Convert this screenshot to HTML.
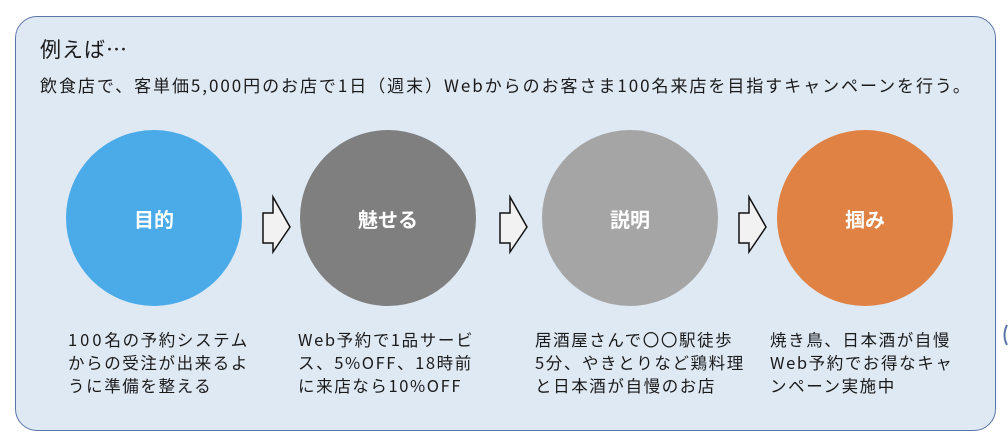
<!DOCTYPE html>
<html><head><meta charset="utf-8"><style>
body{margin:0;width:1008px;height:444px;background:#fff;position:relative;overflow:hidden;font-family:"Noto Sans CJK JP","Liberation Sans",sans-serif;color:#1a1a1a}
.box{position:absolute;left:15px;top:16px;width:979px;height:413px;border:1.5px solid #5b75a9;border-radius:22px;background:#dfe9f4}
.t{position:absolute;white-space:nowrap}
.c{position:absolute;width:176px;height:176px;border-radius:50%;top:130px;color:#fff;font-size:20px;font-weight:bold;display:flex;align-items:center;justify-content:center}
.d{position:absolute;top:328px;font-size:16.5px;line-height:23px;white-space:nowrap;letter-spacing:1.6px}
.n{letter-spacing:3px}
svg{position:absolute}
</style></head><body>
<div class="box"></div>
<div class="t" style="left:40px;top:34px;font-size:21px;letter-spacing:1px">例えば…</div>
<div class="t" style="left:40px;top:72px;font-size:17px;letter-spacing:1.95px">飲食店で、客単価5,000円のお店で1日（週末）Webからのお客さま100名来店を目指すキャンペーンを行う。</div>
<div class="c" style="left:66px;background:#4babe8">目的</div>
<div class="c" style="left:300px;background:#7f7f7f">魅せる</div>
<div class="c" style="left:542px;background:#a5a5a5">説明</div>
<div class="c" style="left:777px;background:#df8243">掴み</div>
<svg style="left:0;top:0" width="1008" height="444">
<g fill="#f2f2f2" stroke="#111" stroke-width="1.5">
<polygon points="263,213 273,213 273,197 290,227 273,252 273,243 263,243"/>
<polygon points="500,213 510,213 510,197 527,227 510,252 510,243 500,243"/>
<polygon points="739,213 749,213 749,197 766,227 749,252 749,243 739,243"/>
</g>
<path d="M1007,325 Q1002,335 1007,345" stroke="#5b75a9" stroke-width="2" fill="none"/>
</svg>
<div class="d" style="left:68px"><span class="n">100</span>名の予約システム<br>からの受注が出来るよ<br>うに準備を整える</div>
<div class="d" style="left:298px">Web予約で1品サービ<br>ス、5%OFF、18時前<br>に来店なら10%OFF</div>
<div class="d" style="left:535px">居酒屋さんで〇〇駅徒歩<br>5分、やきとりなど鶏料理<br>と日本酒が自慢のお店</div>
<div class="d" style="left:770px">焼き鳥、日本酒が自慢<br>Web予約でお得なキャ<br>ンペーン実施中</div>
</body></html>
